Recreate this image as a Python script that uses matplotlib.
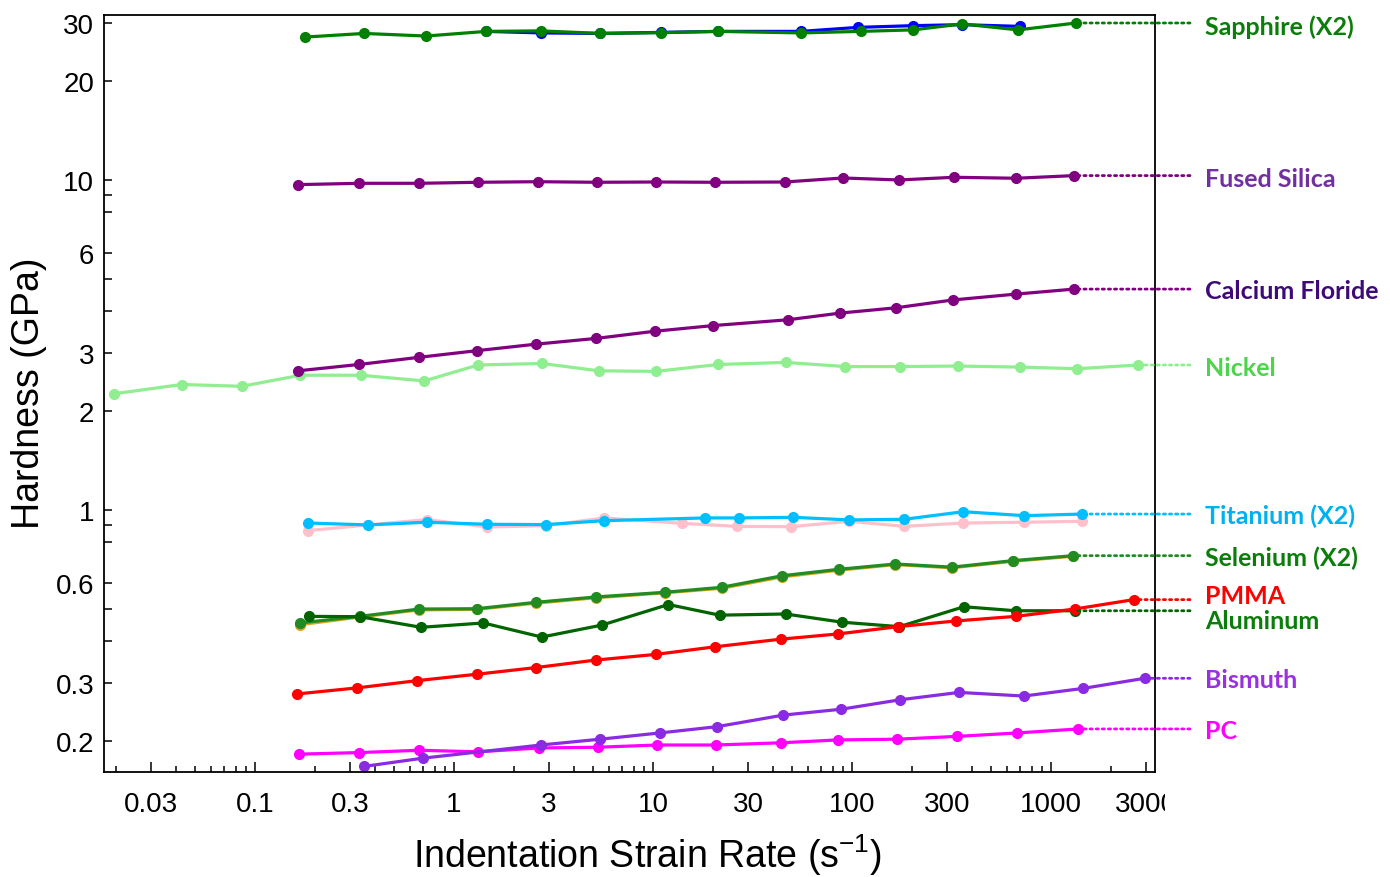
import matplotlib
matplotlib.use("Agg")
import matplotlib.pyplot as plt
from matplotlib.ticker import FixedLocator, NullFormatter
from matplotlib.transforms import Bbox, TransformedBbox

# ---------------- data ----------------
sapphire_a_x = [1.45, 2.74, 5.42, 10.97, 21.2, 55.4, 107, 203, 357, 699]
sapphire_a_y = [28.2, 27.9, 27.8, 28.0, 28.2, 28.2, 29.0, 29.35, 29.55, 29.2]

sapphire_b_x = [0.178, 0.353, 0.723, 1.45, 2.74, 5.42, 10.97, 21.2, 55.4, 111, 203, 357, 683, 1335]
sapphire_b_y = [27.1, 27.8, 27.3, 28.2, 28.3, 27.8, 27.95, 28.2, 27.9, 28.2, 28.5, 29.7, 28.5, 29.9]

silica_x = [0.164, 0.333, 0.667, 1.32, 2.64, 5.23, 10.35, 20.5, 46.1, 90.1, 172, 326, 667, 1305]
silica_y = [9.68, 9.77, 9.77, 9.84, 9.88, 9.84, 9.86, 9.84, 9.86, 10.14, 10.0, 10.19, 10.12, 10.31]

caf2_x = [0.164, 0.333, 0.663, 1.31, 2.58, 5.17, 10.2, 20.0, 47.6, 87.1, 167, 322, 667, 1305]
caf2_y = [2.64, 2.76, 2.90, 3.04, 3.18, 3.31, 3.48, 3.62, 3.77, 3.95, 4.10, 4.33, 4.51, 4.67]

nickel_x = [0.0196, 0.0429, 0.0859, 0.169, 0.341, 0.708, 1.32, 2.76, 5.35, 10.3, 21.3, 46.5,
            92.1, 175, 340, 694, 1352, 2749]
nickel_y = [2.25, 2.40, 2.37, 2.56, 2.56, 2.46, 2.75, 2.78, 2.64, 2.63, 2.76, 2.80,
            2.72, 2.72, 2.73, 2.71, 2.68, 2.75]

titanium_a_x = [0.185, 0.371, 0.729, 1.47, 2.89, 5.67, 18.25, 27.1, 50.7, 96.6, 183, 362, 734, 1436]
titanium_a_y = [0.913, 0.901, 0.918, 0.905, 0.903, 0.928, 0.946, 0.946, 0.950, 0.933, 0.937, 0.988, 0.961, 0.972]

titanium_b_x = [0.185, 0.371, 0.729, 1.47, 2.89, 5.67, 13.9, 26.3, 49.4, 96.6, 183, 362, 734, 1436]
titanium_b_y = [0.866, 0.901, 0.935, 0.888, 0.896, 0.946, 0.911, 0.892, 0.890, 0.924, 0.892, 0.913, 0.918, 0.924]

selenium_x = [0.168, 0.336, 0.668, 1.297, 2.58, 5.16, 11.45, 22.1, 44.6, 85.8, 165, 318, 640, 1294]
selenium_a_y = [0.449, 0.474, 0.498, 0.500, 0.522, 0.542, 0.561, 0.579, 0.627, 0.657, 0.683, 0.668, 0.699, 0.724]
selenium_b_y = [0.4545, 0.476, 0.501, 0.502, 0.525, 0.545, 0.563, 0.583, 0.632, 0.661, 0.686, 0.671, 0.702, 0.727]

aluminum_x = [0.1866, 0.336, 0.683, 1.405, 2.76, 5.54, 11.94, 21.6, 46.3, 89.1, 172.7, 364.5, 665, 1315]
aluminum_y = [0.476, 0.475, 0.441, 0.4545, 0.412, 0.448, 0.517, 0.480, 0.484, 0.457, 0.443, 0.509, 0.495, 0.495]

pmma_x = [0.1626, 0.326, 0.653, 1.31, 2.58, 5.17, 10.3, 20.5, 43.8, 84.8, 170, 332, 665, 1315, 2604]
pmma_y = [0.277, 0.289, 0.304, 0.318, 0.333, 0.351, 0.365, 0.385, 0.406, 0.421, 0.443, 0.461, 0.476, 0.501, 0.535]

bismuth_x = [0.351, 0.699, 2.73, 5.42, 10.8, 21.0, 45.1, 88.2, 174.5, 345, 730, 1452, 2953]
bismuth_y = [0.167, 0.177, 0.194, 0.202, 0.211, 0.2205, 0.239, 0.249, 0.266, 0.280, 0.273, 0.288, 0.309]

pc_x = [0.166, 0.333, 0.668, 1.326, 2.66, 5.28, 10.5, 20.7, 43.8, 84.8, 168, 336, 674, 1372]
pc_y = [0.182, 0.184, 0.187, 0.185, 0.190, 0.191, 0.194, 0.194, 0.197, 0.201, 0.202, 0.206, 0.211, 0.217]

x_ticks = [0.03, 0.1, 0.3, 1, 3, 10, 30, 100, 300, 1000, 3000]
x_ticklabels = ["0.03", "0.1", "0.3", "1", "3", "10", "30", "100", "300", "1000", "3000"]
y_ticks = [0.2, 0.3, 0.6, 1, 2, 3, 6, 10, 20, 30]
y_ticklabels = ["0.2", "0.3", "0.6", "1", "2", "3", "6", "10", "20", "30"]
y_minor = [0.4, 0.5, 0.8, 0.9, 4, 5, 8, 9]

# ---------------- figure ----------------
plt.rcParams['font.family'] = ['Liberation Sans', 'DejaVu Sans']
fig = plt.figure(figsize=(13.9, 8.78), dpi=100)
ax = fig.add_axes([0.0748, 0.1196, 0.7562, 0.8622])
ax.set_xscale('log')
ax.set_yscale('log')
ax.set_xlim(0.01742, 3331)
ax.set_ylim(0.1607, 31.62)

# series drawn in stacking order
series = [
    (nickel_x, nickel_y, '#90EE90'),
    (caf2_x, caf2_y, '#800080'),
    (silica_x, silica_y, '#800080'),
    (sapphire_a_x, sapphire_a_y, '#0000FF'),
    (sapphire_b_x, sapphire_b_y, '#008000'),
    (titanium_b_x, titanium_b_y, '#FFC0CB'),
    (titanium_a_x, titanium_a_y, '#00BFFF'),
    (selenium_x, selenium_a_y, '#DAA520'),
    (selenium_x, selenium_b_y, '#228B22'),
    (aluminum_x, aluminum_y, '#006400'),
    (pmma_x, pmma_y, '#FF0000'),
    (pc_x, pc_y, '#FF00FF'),
    (bismuth_x, bismuth_y, '#8A2BE2'),
]
for xs, ys, c in series:
    ax.plot(xs, ys, '-o', color=c, lw=2.3, ms=7, mec=c, mfc=c, clip_on=False)

# right-side labels: (text, x data, y data, label colour, dotted colour, vertical offset pt)
labels = [
    ("Sapphire (X2)", sapphire_b_x, sapphire_b_y, '#0B7D0B', '#008000', -2),
    ("Fused Silica", silica_x, silica_y, '#7030A0', '#800080', -2),
    ("Calcium Floride", caf2_x, caf2_y, '#3E0A78', '#800080', -1),
    ("Nickel", nickel_x, nickel_y, '#4CD44C', '#90EE90', -2),
    ("Titanium (X2)", titanium_a_x, titanium_a_y, '#00B0F0', '#00BFFF', -1),
    ("Selenium (X2)", selenium_x, selenium_b_y, '#0B7D0B', '#228B22', -1),
    ("PMMA", pmma_x, pmma_y, '#FF0000', '#FF0000', 3),
    ("Aluminum", aluminum_x, aluminum_y, '#0B7D0B', '#006400', -7),
    ("Bismuth", bismuth_x, bismuth_y, '#9B30E0', '#8A2BE2', -1),
    ("PC", pc_x, pc_y, '#FF00FF', '#FF00FF', -1),
]
line_end_fx = 1190 / 1390
label_fx = 1205 / 1390
for text, xs, ys, lc, dc, dy in labels:
    ax.annotate('', xy=(xs[-1], ys[-1]), xycoords='data',
                xytext=(line_end_fx, ys[-1]), textcoords=('figure fraction', 'data'),
                arrowprops=dict(arrowstyle='-', color=dc, lw=2.0, linestyle=(0, (0.8, 1.4)),
                                shrinkA=0, shrinkB=0),
                annotation_clip=False)
    ax.annotate(text, xy=(label_fx, ys[-1]), xycoords=('figure fraction', 'data'),
                xytext=(0, dy), textcoords='offset points', ha='left', va='center',
                fontsize=18, fontweight='bold', family=['Lato', 'DejaVu Sans'], color=lc,
                annotation_clip=False)

# ticks
ax.xaxis.set_major_locator(FixedLocator(x_ticks))
ax.xaxis.set_minor_locator(matplotlib.ticker.LogLocator(base=10, subs=range(2, 10)))
ax.xaxis.set_minor_formatter(NullFormatter())
ax.set_xticklabels(x_ticklabels)
ax.yaxis.set_major_locator(FixedLocator(y_ticks))
ax.yaxis.set_minor_locator(FixedLocator(y_minor))
ax.yaxis.set_minor_formatter(NullFormatter())
ax.set_yticklabels(y_ticklabels)
ax.tick_params(axis='x', which='major', direction='in', length=7.5, width=1.1, labelsize=20, pad=14,
               top=False)
ax.tick_params(axis='x', which='minor', direction='in', length=4.2, width=1.1, top=False)
ax.tick_params(axis='y', which='both', direction='in', length=5.5, width=1.1, labelsize=20, pad=7,
               right=False)
for sp in ax.spines.values():
    sp.set_linewidth(1.3)
    sp.set_color('black')

# clip the last x tick label at the right like the reference
clip_box = TransformedBbox(Bbox([[0, 0], [1165 / 1390, 1]]), fig.transFigure)
for lab in ax.get_xticklabels():
    if lab.get_text() == "3000":
        lab.set_clip_on(True)
        lab.set_clip_box(clip_box)

ax.set_xlabel('Indentation Strain Rate (s$^{\\mathregular{-1}}$)', fontsize=27)
ax.set_ylabel('Hardness (GPa)', fontsize=27)
ax.xaxis.set_label_coords(0.517, -0.078)
ax.yaxis.set_label_coords(-0.054, 0.502)

fig.savefig('out.png', dpi=100, facecolor='white')
